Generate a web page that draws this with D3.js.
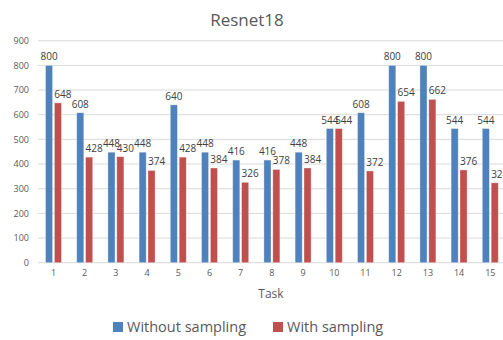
<!DOCTYPE html>
<html><head><meta charset="utf-8">
<script src="https://cdn.jsdelivr.net/npm/d3@7"></script>
<style>body{margin:0;background:#fff;} svg{display:block;font-family:"Open Sans","Noto Sans",sans-serif;}</style>
</head><body><svg id="c" width="503" height="340"></svg>
<script>
const tasks = ["1","2","3","4","5","6","7","8","9","10","11","12","13","14","15"];
const series = ["Without sampling","With sampling"];
const withoutSampling = [800,608,448,448,640,448,416,416,448,544,608,800,800,544,544];
const withSampling = [648,428,430,374,428,384,326,378,384,544,372,654,662,376,324];
const yTicks = [0,100,200,300,400,500,600,700,800,900];
const colors = ["#4F81BD","#C0504D"];

(function(){
const svg = d3.select("#c");
const plotTop = 40.7, plotBottom = 262.7, plotLeft = 37.9, plotRight = 505.9;
const y = d3.scaleLinear().domain([0,900]).range([plotBottom, plotTop]);
const x0 = d3.scaleBand().domain(tasks).range([plotLeft, plotRight]).padding(0);
const x1 = d3.scaleBand().domain(series).range([0, 16]).paddingInner(0.2).paddingOuter(0);
const grpOff = (x0.bandwidth() - 16) / 2;

// gridlines
svg.append("g").selectAll("line").data(yTicks).join("line")
  .attr("x1", 38).attr("x2", 503)
  .attr("y1", d => y(d)).attr("y2", d => y(d))
  .attr("stroke", "#d9d9d9").attr("stroke-width", 1);

// y axis labels
const yAxis = d3.axisLeft(y).tickValues(yTicks).tickSize(0).tickPadding(0);
const gy = svg.append("g").attr("transform", "translate(29,0)").call(yAxis);
gy.select(".domain").remove();
gy.selectAll("text").attr("fill", "#595959").style("font-size", "9px").style("font-family", "'Open Sans',sans-serif");

// x axis labels
const xAxis = d3.axisBottom(x0).tickSize(0).tickPadding(0);
const gx = svg.append("g").attr("transform", "translate(0,270)").call(xAxis);
gx.select(".domain").remove();
gx.selectAll("text").attr("fill", "#595959").style("font-size", "9px").style("font-family", "'Open Sans',sans-serif");

const data = [withoutSampling, withSampling];
const labelDx = [0, 5];
series.forEach((s, si) => {
  const g = svg.append("g");
  g.selectAll("rect").data(tasks).join("rect")
    .attr("x", d => x0(d) + grpOff + x1(s))
    .attr("width", x1.bandwidth())
    .attr("y", (d, i) => y(data[si][i]))
    .attr("height", (d, i) => plotBottom - y(data[si][i]))
    .attr("fill", colors[si])
    .attr("stroke", "#ffffff").attr("stroke-opacity", 0.45).attr("stroke-width", 0.8);
  g.selectAll("text").data(tasks).join("text")
    .attr("x", d => x0(d) + grpOff + x1(s) + x1.bandwidth() / 2 + labelDx[si])
    .attr("y", (d, i) => y(data[si][i]) - 5)
    .attr("text-anchor", "middle")
    .attr("fill", "#404040").style("font-size", "10px")
    .text((d, i) => data[si][i]);
});

// title
svg.append("text").attr("x", 247).attr("y", 26).attr("text-anchor", "middle")
  .attr("fill", "#595959").style("font-size", "17px").text("Resnet18");

// x axis title
svg.append("text").attr("x", 271).attr("y", 298).attr("text-anchor", "middle")
  .attr("fill", "#595959").style("font-size", "12px").text("Task");

// legend
const legX = [113, 273];
series.forEach((s, si) => {
  svg.append("rect").attr("x", legX[si]).attr("y", 322).attr("width", 10).attr("height", 10).attr("fill", colors[si]);
  svg.append("text").attr("x", legX[si] + 14).attr("y", 332)
    .attr("fill", "#595959").style("font-size", "14.5px").text(s);
});
})();
</script></body></html>
